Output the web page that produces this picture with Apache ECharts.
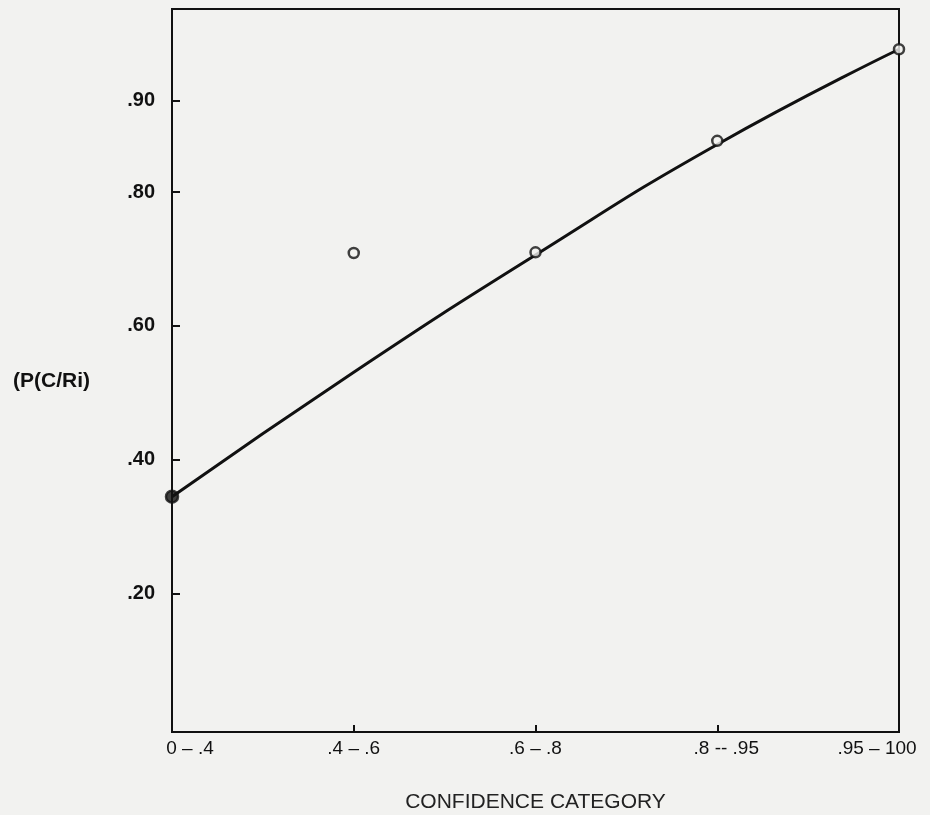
<!DOCTYPE html>
<html>
<head>
<meta charset="utf-8">
<script src="https://cdn.jsdelivr.net/npm/echarts@6/dist/echarts.min.js"></script>
<style>
html,body{margin:0;padding:0;background:#f2f2f0;}
#chart{width:930px;height:815px;}
</style>
</head>
<body>
<div id="chart"></div>
<script>
// Categories (confidence category)
var categories = ['0 \u2013 .4', '.4 \u2013 .6', '.6 \u2013 .8', '.8 -- .95', '.95 \u2013 100'];
// Observed P(C/Ri) (open circles; first one filled)
var observed = [0.345, 0.709, 0.710, 0.856, 0.956];
// Fitted curve values at each category
var fitted = [0.345, 0.531, 0.706, 0.852, 0.956];
// Y tick labels as printed
var yTicks = [0.20, 0.40, 0.60, 0.80, 0.90];

// The printed axis is stretched above .80 (non-uniform scale)
var BREAK = 0.8, STRETCH = 1.367;
function toAxis(p){ return p <= BREAK ? p : BREAK + (p - BREAK) * STRETCH; }
function fromAxis(u){ return u <= BREAK ? u : BREAK + (u - BREAK) / STRETCH; }

var labelShift = [36, 0, 0, 18, -44];
var xData = categories.map(function(c, i){
  var s = labelShift[i];
  var pad = s > 0 ? [0, 0, 0, s] : (s < 0 ? [0, -s, 0, 0] : [0, 0, 0, 0]);
  return { value: c, textStyle: { padding: pad } };
});

var FONT = 'Liberation Sans, Arial, Helvetica, sans-serif';
var chart = echarts.init(document.getElementById('chart'));
chart.setOption({
  backgroundColor: '#f2f2f0',
  animation: false,
  grid: { left: 172, right: 31, top: 9, bottom: 83, outerBoundsMode: 'none', containLabel: false, show: true, borderColor: '#111', borderWidth: 2, backgroundColor: 'transparent' },
  xAxis: {
    type: 'category',
    data: xData,
    boundaryGap: false,
    name: 'CONFIDENCE CATEGORY',
    nameLocation: 'middle',
    nameGap: 60,
    nameTextStyle: { fontFamily: FONT, fontSize: 21, color: '#222' },
    axisLine: { show: true, onZero: false, lineStyle: { color: '#111', width: 2 } },
    axisTick: { show: true, inside: true, length: 7, lineStyle: { color: '#111', width: 2 } },
    axisLabel: { fontFamily: FONT, fontSize: 19, color: '#111', margin: 7, interval: 0 },
    splitLine: { show: false }
  },
  yAxis: {
    type: 'value',
    min: -0.0064,
    max: toAxis(1.0),
    name: '(P(C/Ri)',
    nameLocation: 'middle',
    nameRotate: 0,
    nameGap: 82,
    nameTextStyle: { fontFamily: FONT, fontSize: 21, fontWeight: 'bold', color: '#111', verticalAlign: 'top' },
    axisLine: { show: true, lineStyle: { color: '#111', width: 2 } },
    axisTick: { show: true, inside: true, length: 8, lineStyle: { color: '#111', width: 2 }, customValues: yTicks.map(toAxis) },
    axisLabel: {
      customValues: yTicks.map(toAxis),
      fontFamily: FONT, fontSize: 20, fontWeight: 'bold', color: '#111', margin: 17,
      formatter: function(v){ return fromAxis(v).toFixed(2).replace(/^0/, ''); }
    },
    splitLine: { show: false }
  },
  series: [
    {
      type: 'line',
      data: fitted.map(toAxis),
      smooth: 0.5,
      symbol: 'none',
      lineStyle: { color: '#111', width: 3 },
      z: 2
    },
    {
      type: 'scatter',
      data: observed.map(function(p, i){
        var d = { value: toAxis(p) };
        if (i === 0) { d.symbolSize = 12; d.itemStyle = { color: '#111' }; }
        return d;
      }),
      symbol: 'circle',
      symbolSize: 10,
      itemStyle: { color: '#f2f2f0', borderColor: '#111', borderWidth: 2.5 },
      z: 3
    }
  ]
});
</script>
</body>
</html>
